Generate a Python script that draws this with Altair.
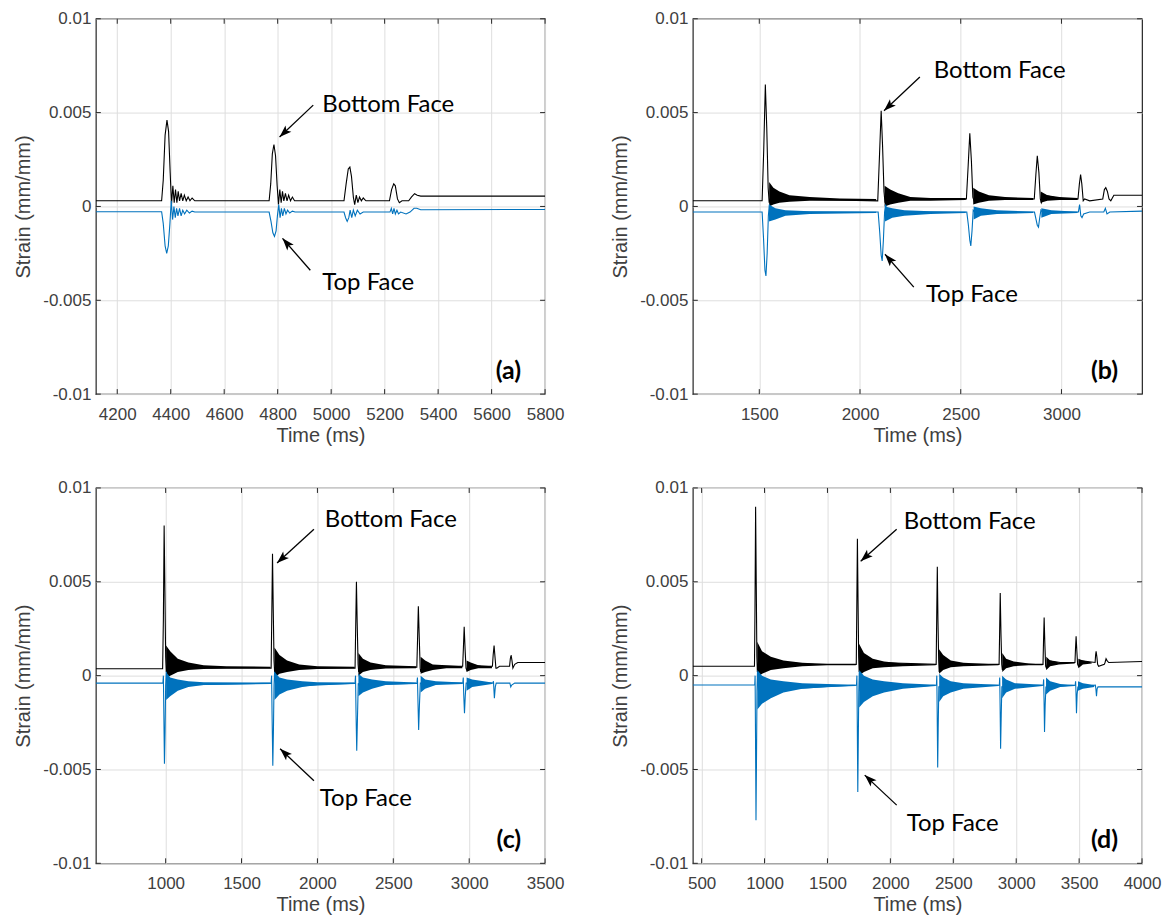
import math
import altair as alt
import pandas as pd

W, H = 450, 376
Y_DOMAIN = [-0.01, 0.01]
Y_TICKS = [-0.01, -0.005, 0, 0.005, 0.01]
BLACK = "#000000"
BLUE = "#0072BD"

# ---------------- panel (a) ----------------
A_XDOMAIN = [4120, 5800]
A_XTICKS = [4200, 4400, 4600, 4800, 5000, 5200, 5400, 5600, 5800]
A_BOTTOM = [
    (4120, 0.0003), (4366, 0.0003), (4372, 0.0014), (4379, 0.0038), (4386, 0.0046),
    (4392, 0.0040), (4398, 0.0018), (4403, 0.0001), (4408, 0.0011), (4413, 0.0002),
    (4418, 0.0009), (4423, 0.0002), (4428, 0.0008), (4433, 0.0003), (4439, 0.0007),
    (4445, 0.0003), (4451, 0.0006), (4458, 0.0003), (4465, 0.0005), (4472, 0.0003),
    (4480, 0.00045), (4490, 0.0003), (4768, 0.0003), (4774, 0.0012), (4780, 0.0028),
    (4786, 0.0033), (4792, 0.0027), (4798, 0.0011), (4803, 0.0001), (4808, 0.0009),
    (4813, 0.0002), (4818, 0.0008), (4823, 0.0003), (4829, 0.0007), (4835, 0.0003),
    (4841, 0.0006), (4848, 0.0003), (4855, 0.0005), (4863, 0.0003), (5048, 0.0003),
    (5056, 0.0012), (5064, 0.0020), (5070, 0.0021), (5076, 0.0016), (5083, 0.0005),
    (5088, 0.0001), (5094, 0.0006), (5100, 0.0002), (5106, 0.0005), (5113, 0.0003),
    (5120, 0.00045), (5130, 0.0003), (5218, 0.0003), (5226, 0.0009), (5234, 0.0012),
    (5240, 0.0011), (5248, 0.0004), (5255, 0.0002), (5265, 0.0003), (5290, 0.0003),
    (5300, 0.0005), (5312, 0.00068), (5322, 0.0006), (5335, 0.00055), (5800, 0.00055),
]
A_TOP = [
    (4120, -0.00028), (4366, -0.00028), (4372, -0.0009), (4379, -0.0021), (4385, -0.0025),
    (4391, -0.0021), (4397, -0.0009), (4402, 0.0003), (4407, -0.0007), (4412, 0.0000),
    (4417, -0.0006), (4422, -0.0001), (4427, -0.0005), (4433, -0.0001), (4439, -0.0005),
    (4445, -0.0002), (4452, -0.0004), (4460, -0.0002), (4470, -0.00035), (4480, -0.00025),
    (4490, -0.0003), (4768, -0.0003), (4775, -0.0008), (4782, -0.0014), (4788, -0.0016),
    (4794, -0.0013), (4799, -0.0005), (4804, 0.0001), (4809, -0.0006), (4814, -0.0001),
    (4819, -0.0005), (4825, -0.0001), (4831, -0.0004), (4837, -0.0002), (4845, -0.00035),
    (4855, -0.00025), (4865, -0.0003), (5048, -0.0003), (5054, -0.0006), (5060, -0.0008),
    (5066, -0.0006), (5071, -0.0002), (5077, -0.0006), (5083, -0.0002), (5090, -0.0005),
    (5098, -0.0002), (5108, -0.0004), (5120, -0.0003), (5220, -0.0003), (5225, -0.0001),
    (5230, -0.0004), (5235, -0.0001), (5240, -0.0004), (5246, -0.0002), (5252, -0.0004),
    (5260, -0.0003), (5280, -0.0004), (5295, -0.0003), (5310, -0.0001), (5320, -0.0001),
    (5335, -0.00018), (5800, -0.00016),
]
A_BOTTOM_RING = []
A_TOP_RING = []
A_NOTES = [
    ("Bottom Face", 4807, 0.0037, 4933, 0.0054, 4967, 0.0054),
    ("Top Face", 4818, -0.0017, 4922, -0.0034, 4967, -0.0041),
]

# ---------------- panel (b) ----------------
B_XDOMAIN = [1170, 3400]
B_XTICKS = [1500, 2000, 2500, 3000]
B_BOTTOM = [
    (1170, 0.0003), (1514, 0.0003), (1522, 0.0030), (1530, 0.0065), (1537, 0.0042),
    (1544, 0.0010), (1549, 0.0002), (1560, 0.0006), (1650, 0.0004), (2088, 0.0003),
    (2097, 0.0028), (2105, 0.0051), (2112, 0.0032), (2119, 0.0008), (2124, 0.0002),
    (2135, 0.0006), (2250, 0.0004), (2528, 0.0004), (2537, 0.0022), (2545, 0.0039),
    (2553, 0.0024), (2560, 0.0005), (2566, 0.0003), (2580, 0.0006), (2700, 0.0004),
    (2865, 0.0004), (2873, 0.0017), (2880, 0.0027), (2888, 0.0018), (2895, 0.0004),
    (2900, 0.0002), (2915, 0.0006), (3000, 0.0004), (3082, 0.0004), (3089, 0.0012),
    (3095, 0.0017), (3101, 0.0012), (3108, 0.0003), (3115, 0.0004), (3140, 0.0003),
    (3205, 0.0004), (3213, 0.0009), (3220, 0.0010), (3228, 0.0008), (3236, 0.0004),
    (3245, 0.0003), (3260, 0.0006), (3400, 0.0006),
]
B_TOP = [
    (1170, -0.0003), (1514, -0.0003), (1521, -0.0017), (1528, -0.0034), (1533, -0.0037),
    (1539, -0.0025), (1545, -0.0005), (1550, 0.0001), (1560, -0.0003), (2090, -0.0003),
    (2098, -0.0014), (2105, -0.0026), (2110, -0.0029), (2116, -0.0018), (2122, -0.0003),
    (2127, 0.0001), (2135, -0.0003), (2530, -0.0003), (2538, -0.0010), (2545, -0.0018),
    (2550, -0.0021), (2556, -0.0013), (2562, -0.0002), (2570, -0.0003), (2866, -0.0003),
    (2874, -0.0007), (2880, -0.0010), (2886, -0.0011), (2892, -0.0006), (2898, -0.0002),
    (2905, -0.0003), (3084, -0.0003), (3090, 0.0001), (3096, -0.0005), (3102, -0.0006),
    (3110, -0.0004), (3140, -0.0003), (3210, -0.0003), (3218, -0.0001), (3226, -0.0004),
    (3240, -0.0003), (3400, -0.00025),
]
B_BOTTOM_RING = [
    [(1549, 0.0000, 0.0013), (1570, 0.0001, 0.0010), (1600, 0.0002, 0.0008),
     (1650, 0.00025, 0.0006), (1750, 0.0003, 0.0005), (1900, 0.0003, 0.00042), (2080, 0.0003, 0.0004)],
    [(2122, 0.0000, 0.0011), (2150, 0.0001, 0.0009), (2190, 0.0002, 0.0007),
     (2250, 0.0003, 0.0005), (2350, 0.0003, 0.00045), (2525, 0.00035, 0.00045)],
    [(2562, 0.0001, 0.0010), (2590, 0.0002, 0.0008), (2640, 0.0003, 0.0006),
     (2720, 0.00035, 0.0005), (2860, 0.00035, 0.00045)],
    [(2897, 0.0002, 0.0008), (2930, 0.0003, 0.0006), (2990, 0.00035, 0.0005), (3080, 0.00035, 0.00045)],
]
B_TOP_RING = [
    [(1548, -0.0008, 0.0001), (1580, -0.0007, -0.0001), (1630, -0.0005, -0.0002),
     (1750, -0.0004, -0.00025), (2080, -0.00035, -0.00028)],
    [(2124, -0.0008, 0.0000), (2160, -0.0006, -0.0001), (2220, -0.0005, -0.0002),
     (2350, -0.0004, -0.00025), (2525, -0.00035, -0.00028)],
    [(2564, -0.0007, 0.0000), (2600, -0.0005, -0.0001), (2680, -0.0004, -0.0002), (2860, -0.00035, -0.00028)],
    [(2900, -0.0006, -0.0001), (2950, -0.0004, -0.0002), (3080, -0.00035, -0.00028)],
]
B_NOTES = [
    ("Bottom Face", 2119, 0.0051, 2297, 0.0069, 2366, 0.0072),
    ("Top Face", 2124, -0.00255, 2267, -0.0043, 2327, -0.0047),
]

# ---------------- panel (c) ----------------
C_XDOMAIN = [540, 3500]
C_XTICKS = [1000, 1500, 2000, 2500, 3000, 3500]
C_BOTTOM = [
    (540, 0.00037), (980, 0.00037), (985, 0.0030), (990, 0.0080), (995, 0.0045),
    (1000, 0.0010), (1004, 0.0002), (1015, 0.0007), (1100, 0.0005), (1300, 0.0004),
    (1695, 0.0004), (1699, 0.0030), (1704, 0.0065), (1709, 0.0035), (1714, 0.0008),
    (1718, 0.0002), (1730, 0.0007), (1800, 0.0005), (2000, 0.0004), (2248, 0.0004),
    (2252, 0.0025), (2257, 0.0050), (2262, 0.0028), (2268, 0.0006), (2272, 0.0002),
    (2285, 0.0006), (2400, 0.00045), (2655, 0.00045), (2660, 0.0020), (2665, 0.0037),
    (2671, 0.0020), (2677, 0.0004), (2681, 0.0002), (2695, 0.0006), (2800, 0.0005),
    (2957, 0.0005), (2962, 0.0015), (2967, 0.0026), (2973, 0.0014), (2979, 0.0004),
    (2984, 0.0003), (2995, 0.0006), (3080, 0.0005), (3153, 0.0005), (3158, 0.0011),
    (3164, 0.0016), (3170, 0.0010), (3176, 0.0004), (3182, 0.0004), (3200, 0.0005),
    (3266, 0.0005), (3271, 0.0009), (3276, 0.0011), (3282, 0.0008), (3288, 0.0004),
    (3300, 0.0006), (3320, 0.0007), (3500, 0.0007),
]
C_TOP = [
    (540, -0.0004), (982, -0.0004), (985, 0.0000), (988, -0.0020), (992, -0.0047),
    (996, -0.0030), (1000, -0.0005), (1004, 0.0002), (1012, -0.0006), (1100, -0.0005),
    (1695, -0.0004), (1698, 0.0000), (1701, -0.0020), (1706, -0.0048), (1710, -0.0030),
    (1714, -0.0005), (1718, 0.0002), (1726, -0.0006), (2248, -0.0004), (2251, 0.0000),
    (2254, -0.0018), (2259, -0.0040), (2264, -0.0022), (2269, -0.0004), (2275, -0.0005),
    (2656, -0.0004), (2659, -0.0001), (2662, -0.0012), (2667, -0.0029), (2672, -0.0016),
    (2678, -0.0004), (2958, -0.0004), (2961, -0.0001), (2964, -0.0010), (2969, -0.0020),
    (2974, -0.0011), (2980, -0.0004), (3155, -0.0004), (3160, -0.0003), (3166, -0.0012),
    (3172, -0.0006), (3178, -0.0004), (3268, -0.0004), (3274, -0.0006), (3280, -0.0005),
    (3300, -0.0004), (3500, -0.0004),
]
C_BOTTOM_RING = [
    [(1003, -0.0001, 0.0016), (1030, 0.0000, 0.0013), (1080, 0.0002, 0.0009), (1150, 0.0003, 0.0007),
     (1250, 0.00035, 0.00055), (1400, 0.0004, 0.0005), (1690, 0.0004, 0.00048)],
    [(1717, -0.0001, 0.0015), (1750, 0.0001, 0.0011), (1800, 0.0002, 0.0008), (1880, 0.0003, 0.0006),
     (2000, 0.00035, 0.0005), (2245, 0.0004, 0.00048)],
    [(2270, 0.0000, 0.0012), (2300, 0.0002, 0.0009), (2350, 0.0003, 0.0007), (2450, 0.00038, 0.00055),
     (2650, 0.0004, 0.0005)],
    [(2680, 0.0001, 0.0010), (2710, 0.0002, 0.0008), (2760, 0.0003, 0.0006), (2850, 0.0004, 0.00055),
     (2955, 0.0004, 0.0005)],
    [(2983, 0.0002, 0.0008), (3010, 0.0003, 0.0007), (3060, 0.0004, 0.00055), (3150, 0.0004, 0.0005)],
]
C_TOP_RING = [
    [(1003, -0.0013, 0.0002), (1030, -0.0011, -0.0001), (1080, -0.0008, -0.0002), (1150, -0.0006, -0.0003),
     (1250, -0.0005, -0.00035), (1690, -0.00045, -0.00037)],
    [(1717, -0.0013, 0.0002), (1750, -0.0010, -0.0001), (1800, -0.0008, -0.0002), (1900, -0.0006, -0.0003),
     (2000, -0.0005, -0.00035), (2245, -0.00045, -0.00037)],
    [(2270, -0.0011, 0.0001), (2300, -0.0009, -0.0001), (2360, -0.0007, -0.0002), (2450, -0.0005, -0.0003),
     (2650, -0.00045, -0.00037)],
    [(2680, -0.0009, 0.0000), (2710, -0.0007, -0.0002), (2780, -0.0005, -0.0003), (2955, -0.00045, -0.00037)],
    [(2983, -0.0008, -0.0001), (3020, -0.0006, -0.0002), (3150, -0.00045, -0.00037)],
]
C_NOTES = [
    ("Bottom Face", 1734, 0.0060, 1977, 0.0078, 2049, 0.0083),
    ("Top Face", 1754, -0.0039, 1977, -0.0056, 2016, -0.0066),
]

# ---------------- panel (d) ----------------
D_XDOMAIN = [430, 4000]
D_XTICKS = [500, 1000, 1500, 2000, 2500, 3000, 3500, 4000]
D_BOTTOM = [
    (430, 0.0005), (920, 0.0005), (924, 0.0035), (929, 0.0090), (934, 0.0050),
    (939, 0.0010), (943, 0.0002), (955, 0.0009), (1100, 0.0007), (1400, 0.0006),
    (1729, 0.0006), (1733, 0.0035), (1738, 0.0073), (1743, 0.0040), (1748, 0.0010),
    (1752, 0.0002), (1765, 0.0009), (1900, 0.0007), (2364, 0.0006), (2368, 0.0030),
    (2373, 0.0058), (2378, 0.0030), (2384, 0.0008), (2388, 0.0002), (2400, 0.0008),
    (2550, 0.0006), (2864, 0.0006), (2868, 0.0022), (2873, 0.0044), (2879, 0.0022),
    (2885, 0.0006), (2890, 0.0003), (2905, 0.0008), (3050, 0.0006), (3213, 0.0006),
    (3217, 0.0018), (3222, 0.0031), (3228, 0.0016), (3234, 0.0005), (3240, 0.0004),
    (3255, 0.0008), (3350, 0.0007), (3467, 0.0007), (3471, 0.0014), (3476, 0.0021),
    (3482, 0.0013), (3488, 0.0006), (3495, 0.0005), (3510, 0.0008), (3627, 0.0007),
    (3631, 0.0011), (3635, 0.0013), (3641, 0.0010), (3647, 0.0006), (3655, 0.0005),
    (3700, 0.0006), (3706, 0.0007), (3714, 0.0009), (3722, 0.0008), (3735, 0.0007),
    (4000, 0.00075),
]
D_TOP = [
    (430, -0.0005), (922, -0.0005), (925, 0.0000), (928, -0.0030), (932, -0.0077),
    (936, -0.0045), (940, -0.0008), (944, 0.0002), (952, -0.0008), (1731, -0.0005),
    (1734, 0.0000), (1737, -0.0025), (1741, -0.0062), (1745, -0.0035), (1749, -0.0008),
    (1753, 0.0002), (1760, -0.0008), (2366, -0.0005), (2369, 0.0000), (2372, -0.0020),
    (2376, -0.0049), (2380, -0.0028), (2385, -0.0006), (2390, -0.0006), (2866, -0.0005),
    (2869, -0.0001), (2872, -0.0016), (2876, -0.0039), (2881, -0.0021), (2886, -0.0006),
    (3215, -0.0005), (3218, -0.0002), (3221, -0.0012), (3225, -0.0030), (3230, -0.0016),
    (3236, -0.0006), (3469, -0.0005), (3472, -0.0003), (3475, -0.0009), (3479, -0.0020),
    (3484, -0.0010), (3490, -0.0006), (3629, -0.0005), (3633, -0.0007), (3638, -0.0011),
    (3643, -0.0007), (3650, -0.0006), (3700, -0.0006), (4000, -0.0006),
]
D_BOTTOM_RING = [
    [(942, -0.0001, 0.0018), (980, 0.0001, 0.0013), (1050, 0.0003, 0.0010), (1150, 0.0004, 0.0008),
     (1300, 0.0005, 0.00068), (1500, 0.00055, 0.00062), (1725, 0.00055, 0.0006)],
    [(1751, 0.0000, 0.0017), (1790, 0.0002, 0.0012), (1860, 0.0004, 0.0009), (1950, 0.00045, 0.00075),
     (2100, 0.0005, 0.00065), (2360, 0.00055, 0.0006)],
    [(2387, 0.0001, 0.0014), (2420, 0.0003, 0.0011), (2480, 0.00045, 0.0008), (2580, 0.0005, 0.00068),
     (2860, 0.00055, 0.0006)],
    [(2889, 0.0002, 0.0012), (2920, 0.0004, 0.0009), (2980, 0.0005, 0.00075), (3100, 0.00055, 0.00065),
     (3210, 0.00055, 0.0006)],
    [(3239, 0.0003, 0.0010), (3270, 0.0005, 0.0008), (3340, 0.0006, 0.0007), (3465, 0.00065, 0.0007)],
    [(3494, 0.0004, 0.0009), (3530, 0.0006, 0.0008), (3600, 0.00065, 0.0007)],
]
D_TOP_RING = [
    [(943, -0.0018, 0.0003), (980, -0.0015, 0.0000), (1050, -0.0012, -0.0002), (1150, -0.0009, -0.0003),
     (1300, -0.0007, -0.0004), (1500, -0.0006, -0.00045), (1725, -0.00055, -0.00048)],
    [(1752, -0.0017, 0.0003), (1790, -0.0014, 0.0000), (1860, -0.0011, -0.0002), (1950, -0.0009, -0.0003),
     (2100, -0.0007, -0.0004), (2360, -0.00055, -0.00048)],
    [(2388, -0.0014, 0.0001), (2420, -0.0011, -0.0001), (2480, -0.0009, -0.0003), (2580, -0.0007, -0.0004),
     (2860, -0.00055, -0.00048)],
    [(2888, -0.0012, 0.0000), (2920, -0.0009, -0.0002), (2990, -0.0007, -0.0004), (3210, -0.00055, -0.00048)],
    [(3237, -0.0010, -0.0001), (3270, -0.0008, -0.0003), (3350, -0.0006, -0.00045), (3465, -0.00055, -0.0005)],
    [(3491, -0.0008, -0.0003), (3530, -0.0007, -0.0004), (3620, -0.0006, -0.0005)],
]
D_NOTES = [
    ("Bottom Face", 1764, 0.0061, 2050, 0.0078, 2106, 0.0082),
    ("Top Face", 1796, -0.0053, 2050, -0.0069, 2130, -0.0079),
]

FONT = "Liberation Sans"
NOTE_FONT = "Lato"
ARROW_PATH = "M0,0L0.7,2L0,1.55L-0.7,2Z"


def ring_frame(rings):
    rows = []
    for i, seg in enumerate(rings):
        for t, lo, hi in seg:
            rows.append({"t": t, "lo": lo, "hi": hi, "seg": i})
    return pd.DataFrame(rows, columns=["t", "lo", "hi", "seg"])


def panel(xdomain, xticks, bottom, top, bottom_ring, top_ring, notes, label):
    xscale = alt.Scale(domain=xdomain, nice=False, zero=False)
    yscale = alt.Scale(domain=Y_DOMAIN, nice=False, zero=False)
    xaxis = alt.Axis(values=xticks, format="d", title="Time (ms)", labelOverlap=False, labelFlush=False)
    yaxis = alt.Axis(
        values=Y_TICKS,
        title="Strain (mm/mm)",
        labelOverlap=False,
        labelFlush=False,
        labelExpr="abs(datum.value) < 1e-12 ? '0' : (datum.value < 0 ? '-' : '') + format(abs(datum.value), '.3~f')",
    )

    def X(f):
        return alt.X(f, type="quantitative", scale=xscale, axis=xaxis)

    def Y(f):
        return alt.Y(f, type="quantitative", scale=yscale, axis=yaxis)

    layers = []
    xt = pd.DataFrame({"t": xticks})
    yt = pd.DataFrame({"v": Y_TICKS})
    tick_style = dict(color="#262626", strokeWidth=1)
    layers.append(alt.Chart(xt).mark_rule(**tick_style).encode(x=X("t"), y=alt.value(H), y2=alt.value(H - 5)))
    layers.append(alt.Chart(xt).mark_rule(**tick_style).encode(x=X("t"), y=alt.value(0), y2=alt.value(5)))
    layers.append(alt.Chart(yt).mark_rule(**tick_style).encode(y=Y("v"), x=alt.value(0), x2=alt.value(5)))
    layers.append(alt.Chart(yt).mark_rule(**tick_style).encode(y=Y("v"), x=alt.value(W), x2=alt.value(W - 5)))

    for data, ring, color in ((bottom, bottom_ring, BLACK), (top, top_ring, BLUE)):
        df = pd.DataFrame(data, columns=["t", "v"])
        layers.append(
            alt.Chart(df).mark_line(color=color, strokeWidth=1.1, clip=True).encode(x=X("t"), y=Y("v"))
        )
        if ring:
            rf = ring_frame(ring)
            layers.append(
                alt.Chart(rf).mark_area(color=color, opacity=1, clip=True).encode(
                    x=X("t"), y=Y("lo"), y2=alt.Y2("hi"), detail="seg:N"
                )
            )

    kx = W / (xdomain[1] - xdomain[0])
    ky = H / (Y_DOMAIN[1] - Y_DOMAIN[0])
    rows = []
    for text, tip_t, tip_v, tail_t, tail_v, txt_t, txt_v in notes:
        dx = (tip_t - tail_t) * kx
        dy = -(tip_v - tail_v) * ky
        ang = math.degrees(math.atan2(dx, -dy)) % 360
        rows.append(dict(label=text, tip_t=tip_t, tip_v=tip_v, tail_t=tail_t, tail_v=tail_v,
                         txt_t=txt_t, txt_v=txt_v, ang=ang))
    nf = pd.DataFrame(rows)
    layers.append(
        alt.Chart(nf).mark_rule(color="black", strokeWidth=1.3).encode(
            x=X("tail_t"), y=Y("tail_v"), x2=alt.X2("tip_t"), y2=alt.Y2("tip_v")
        )
    )
    layers.append(
        alt.Chart(nf).mark_point(shape=ARROW_PATH, filled=True, size=150, color="black", opacity=1).encode(
            x=X("tip_t"), y=Y("tip_v"), angle=alt.Angle("ang:Q", scale=None)
        )
    )
    layers.append(
        alt.Chart(nf).mark_text(align="left", baseline="middle", font=NOTE_FONT, fontSize=24, color="black").encode(
            x=X("txt_t"), y=Y("txt_v"), text="label:N"
        )
    )
    lf = pd.DataFrame({"label": [label]})
    layers.append(
        alt.Chart(lf).mark_text(align="right", baseline="alphabetic", font=NOTE_FONT, fontWeight="bold",
                                fontSize=25, color="black").encode(
            x=alt.value(W - 24), y=alt.value(H - 15), text="label:N"
        )
    )
    return alt.layer(*layers).properties(width=W, height=H)


pa = panel(A_XDOMAIN, A_XTICKS, A_BOTTOM, A_TOP, A_BOTTOM_RING, A_TOP_RING, A_NOTES, "(a)")
pb = panel(B_XDOMAIN, B_XTICKS, B_BOTTOM, B_TOP, B_BOTTOM_RING, B_TOP_RING, B_NOTES, "(b)")
pc = panel(C_XDOMAIN, C_XTICKS, C_BOTTOM, C_TOP, C_BOTTOM_RING, C_TOP_RING, C_NOTES, "(c)")
pd_ = panel(D_XDOMAIN, D_XTICKS, D_BOTTOM, D_TOP, D_BOTTOM_RING, D_TOP_RING, D_NOTES, "(d)")

chart = alt.concat(
    pa, pb, pc, pd_, columns=2, spacing={"row": 94, "column": 148}, bounds="flush"
).properties(
    padding={"left": 5, "top": 0, "right": 5, "bottom": 5}
).configure_view(
    stroke="#262626", strokeWidth=1.2
).configure_axis(
    grid=True, gridColor="#dedede", gridWidth=1, domain=False, ticks=False,
    labelFont=FONT, labelFontSize=17, labelColor="#404040", labelOverlap=False, labelFlush=False,
    titleFont=FONT, titleFontSize=20, titleFontWeight="normal", titleColor="#404040",
).configure_axisX(
    labelPadding=12, minExtent=28, maxExtent=28, titlePadding=3,
).configure_axisY(
    labelPadding=5, minExtent=50, maxExtent=50, titlePadding=12,
)

chart.save("out.html", embed_options={"renderer": "svg", "actions": False})
